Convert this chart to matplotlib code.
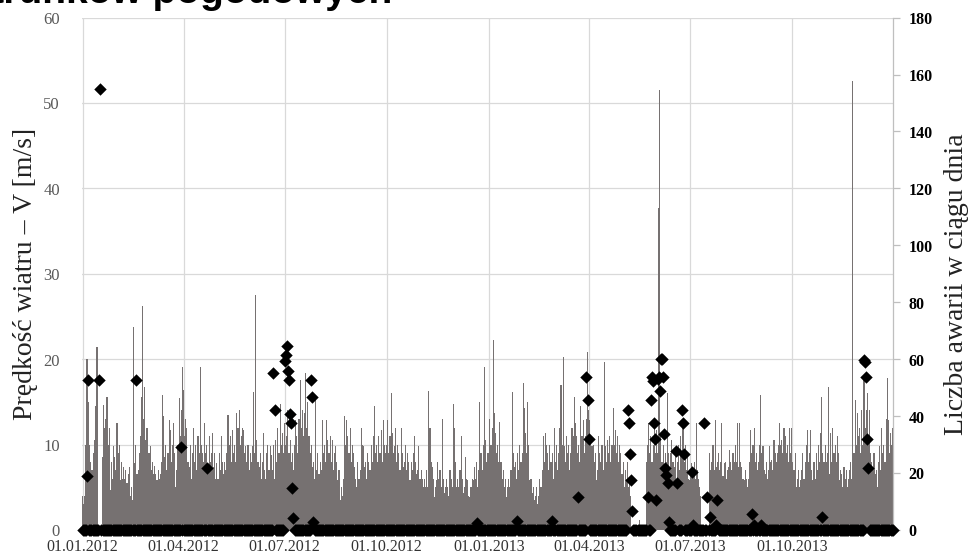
import numpy as np
import pandas as pd
import matplotlib
matplotlib.use("Agg")
import matplotlib.pyplot as plt
import matplotlib.dates as mdates

plt.rcParams["path.simplify"] = False

# ---------------- data ----------------
start_date = "2012-01-01"

wind_2012_01 = [4, 3, 4, 10, 20, 15, 10, 8, 7, 7, 9, 10.5, 14.5, 21.4, 0, 0, 0, 0, 8.6, 14.6, 12, 13, 15.6, 10, 12, 4.7, 8, 6, 9.8, 8.6, 7]
wind_2012_02 = [12.5, 9, 10, 5.9, 8, 6, 7.4, 6, 7, 5.5, 6.5, 7.4, 4, 5, 3.5, 23.8, 7.8, 10, 6.5, 7, 9, 11, 15.6, 26.2, 13, 16.8, 10.5, 12, 9]
wind_2012_03 = [9, 9.8, 7, 8, 6.6, 7.5, 6.6, 5.9, 7, 6, 6.5, 8, 15.8, 13.3, 8.6, 10, 7, 9, 12.9, 11.7, 8, 10, 12.5, 9, 5, 7, 10, 15.4, 11, 14, 19.1]
wind_2012_04 = [16.4, 11, 13, 12, 8, 7.4, 10, 6, 9, 12, 8, 10, 7, 11, 9, 19.1, 10, 9, 8, 12.5, 9, 10, 7, 11, 8, 9, 11.3, 7.4, 9, 6]
wind_2012_05 = [7.8, 6, 9, 7, 11, 8, 6.6, 8, 7, 9, 13.5, 10, 11, 8, 11.7, 9, 10, 8, 13.7, 12, 14, 10, 11, 12, 11.7, 9, 9.8, 8, 10, 7, 9]
wind_2012_06 = [8, 9.8, 16.2, 9, 27.5, 10.5, 8, 7.4, 9, 6, 8, 11.3, 7, 6, 9, 10, 7, 9.8, 8.8, 7, 10, 6, 10.5, 8, 12, 9, 14.8, 10, 11.3, 9]
wind_2012_07 = [12.5, 10, 11, 14, 9, 10.5, 8, 9, 7, 10, 12.9, 11, 9, 13, 17.6, 12, 14, 11, 13.7, 18.4, 12, 15, 11, 9, 10, 7.4, 8, 6, 15.8, 7, 9]
wind_2012_08 = [6.6, 8, 7, 12.9, 9, 10, 8, 12.9, 10.5, 9, 11, 8, 10.5, 7, 9, 9.8, 8, 5.9, 7, 3.5, 5, 4, 6, 13.3, 10, 12.9, 11, 9, 12, 8, 10]
wind_2012_09 = [9, 7.4, 6, 5, 8, 6, 7, 12, 10, 9.8, 7.4, 8, 6, 9, 8, 7, 10, 8, 11, 14.5, 9, 10, 8, 11, 9, 11.7, 8, 12.9, 10, 9]
wind_2012_10 = [10, 12.9, 9, 11, 16, 11.3, 9, 9.8, 12, 8, 10, 9, 7, 12, 9, 7.4, 8, 10, 7, 9, 8, 5.9, 8, 7, 9, 11, 8, 6.6, 7, 9.8, 6]
wind_2012_11 = [7, 6, 5, 6, 5, 7, 5, 16.3, 12, 8, 7.4, 6, 3.9, 5, 5.9, 8, 6, 7, 5, 13, 6, 4.3, 5, 6, 5, 4, 7, 6, 5, 14.8]
wind_2012_12 = [12, 8, 5, 6, 5, 7, 11, 6, 4.3, 5, 8.6, 6, 5.9, 4, 3.9, 5, 6, 5.9, 7.4, 6, 8, 5, 7, 15, 9, 7, 10, 19.1, 10.5, 8, 9]
wind_2013_01 = [9, 13, 10, 12, 22.3, 13.7, 11.3, 9, 10, 8, 12.7, 8, 6, 7, 5, 6, 3.9, 5, 6, 5, 7, 16.2, 9, 7.4, 8, 6, 9, 7, 10, 8, 9]
wind_2013_02 = [17.2, 14.3, 11.3, 9, 15, 10, 5.9, 6, 4.3, 5, 3.5, 4, 5, 3.1, 4, 6, 5, 7, 11, 8, 11.3, 10, 9, 7, 10, 8, 9, 6]
wind_2013_03 = [12, 8, 10, 7, 9, 12, 17, 10, 20.3, 9.8, 8, 11, 9, 10, 7, 9, 12, 11, 15.6, 12.5, 11, 9, 10, 8, 14.5, 11, 12.9, 9, 11, 13, 20.9]
wind_2013_04 = [14, 12.9, 11, 9.8, 10, 8, 9, 5.9, 7, 11, 9, 8, 10, 7, 19.7, 9.8, 8, 10.5, 9, 11, 8, 10, 14.3, 10, 11.7, 9, 11, 8, 10, 9]
wind_2013_05 = [6.6, 8, 5, 7, 6, 8, 5, 6, 4, 0, 0, 0, 0, 0, 0, 0, 1.2, 0, 0, 0, 0, 0, 8, 10, 12.5, 9, 11, 8, 10, 12, 9]
wind_2013_06 = [11.7, 9, 37.7, 51.5, 11, 8, 10, 7.4, 9, 8, 16, 9, 7, 9, 10.5, 8, 7.4, 9, 6, 8, 10, 7, 11, 9, 12.9, 8, 10, 7, 9, 6]
wind_2013_07 = [5.9, 7, 7.8, 6.6, 8, 6, 12.5, 7, 6, 5, 4, 0, 0, 0, 0, 0, 0, 0, 9, 7, 8, 10, 7, 12.9, 7.4, 8, 9, 7, 8, 12.5, 6.3]
wind_2013_08 = [7.8, 8, 6, 7, 7.4, 9.4, 8, 7, 9, 8, 10, 8, 12.5, 7.4, 12.5, 8, 7.4, 6, 5.9, 7, 6, 5, 6, 8, 11.7, 9, 10, 12, 8, 9, 7]
wind_2013_09 = [8, 10, 15.8, 9, 9.8, 7, 6.6, 8, 6, 7, 9.8, 8, 8.2, 7, 10.5, 9, 8, 9, 10, 12.5, 10, 10.5, 9, 12, 11, 9, 10, 8, 12, 9]
wind_2013_10 = [12, 8, 7, 9, 5, 6, 7, 5, 5.9, 7, 9, 6, 8, 10, 11.7, 8, 9, 11.7, 7, 5.9, 8, 6, 9, 7, 10, 8, 11.3, 15.6, 9, 8, 10]
wind_2013_11 = [8, 9, 16.8, 6.6, 11.3, 8, 12, 9, 10, 8, 11, 9, 5.9, 7, 6.6, 5, 7.4, 6, 7, 5, 6, 7, 8, 6, 52.6, 9, 15.2, 10, 13.7, 11]
wind_2013_12 = [12, 9, 14, 10, 17.6, 12, 14, 16, 11, 14, 9, 8, 7.4, 9, 6.6, 7, 5, 8, 9.8, 7, 12, 9, 10, 8, 13, 17.8, 12.9, 9, 11.3, 10, 12]

wind_speed = (wind_2012_01 + wind_2012_02 + wind_2012_03 + wind_2012_04 + wind_2012_05 + wind_2012_06
              + wind_2012_07 + wind_2012_08 + wind_2012_09 + wind_2012_10 + wind_2012_11 + wind_2012_12
              + wind_2013_01 + wind_2013_02 + wind_2013_03 + wind_2013_04 + wind_2013_05 + wind_2013_06
              + wind_2013_07 + wind_2013_08 + wind_2013_09 + wind_2013_10 + wind_2013_11 + wind_2013_12)

# days with failures (all other days: 0 failures)
fail_dates = ["2012-01-05", "2012-01-06", "2012-01-16", "2012-01-17", "2012-02-18", "2012-03-30",
              "2012-04-22", "2012-06-21", "2012-06-22", "2012-07-01", "2012-07-02", "2012-07-03",
              "2012-07-04", "2012-07-05", "2012-07-06", "2012-07-07", "2012-07-08", "2012-07-09",
              "2012-07-25", "2012-07-26", "2012-07-27", "2012-12-21", "2013-01-26", "2013-02-27",
              "2013-03-22", "2013-03-30", "2013-03-31", "2013-04-01", "2013-05-06", "2013-05-07",
              "2013-05-08", "2013-05-09", "2013-05-10", "2013-05-24", "2013-05-27", "2013-05-28",
              "2013-05-29", "2013-05-30", "2013-05-31", "2013-06-01", "2013-06-02", "2013-06-03",
              "2013-06-04", "2013-06-05", "2013-06-06", "2013-06-07", "2013-06-08", "2013-06-09",
              "2013-06-10", "2013-06-11", "2013-06-12", "2013-06-19", "2013-06-20", "2013-06-24",
              "2013-06-25", "2013-06-26", "2013-07-03", "2013-07-04", "2013-07-14", "2013-07-17",
              "2013-07-19", "2013-07-25", "2013-07-26", "2013-08-26", "2013-08-28", "2013-09-03",
              "2013-10-28", "2013-12-05", "2013-12-06", "2013-12-07", "2013-12-08", "2013-12-09"]
fail_counts = [18.8, 52.8, 52.8, 155, 52.8, 29,
               21.7, 55, 42, 59.2, 61.5, 64.8,
               55.7, 52.8, 40.7, 37.7, 14.7, 4.1,
               52.8, 46.7, 2.9, 2.4, 3, 3,
               11.7, 53.7, 45.7, 31.9, 42, 37.7,
               26.7, 17.6, 6.8, 11.7, 45.7, 53.7,
               52.2, 37.7, 31.9, 10.6, 53, 53.7,
               48.7, 60, 60, 53.7, 33.8, 21.7,
               19.3, 16.6, 2.9, 27.9, 16.6, 42,
               37.7, 26.7, 20.2, 1.8, 37.7, 11.7,
               4.5, 1.8, 10.6, 5.5, 1.8, 1.8,
               4.7, 59.6, 59, 53.7, 31.9, 21.7]

x_tick_dates = ["2012-01-01", "2012-04-01", "2012-07-01", "2012-10-01",
                "2013-01-01", "2013-04-01", "2013-07-01", "2013-10-01"]

left_label = "Prędkość wiatru – V [m/s]"
right_label = "Liczba awarii w ciągu dnia"
title_text = "Zależność awaryjności od warunków pogodowych"

# ---------------- build series ----------------
dates = pd.date_range(start_date, periods=len(wind_speed), freq="D")
failures = pd.Series(0.0, index=dates)
failures.loc[pd.to_datetime(fail_dates)] = fail_counts

# ---------------- figure ----------------
W, H = 970, 556
fig = plt.figure(figsize=(W / 100 + 0.004, H / 100 + 0.004), dpi=100)
L, R, B, T = 82, 893, 530, 18
ax = fig.add_axes([L / W, 1 - B / H, (R - L) / W, (B - T) / H])

serif = ["Liberation Serif", "DejaVu Serif"]

ax.bar(dates, wind_speed, width=1.0, color="#767171", linewidth=0, zorder=2)
ax.set_ylim(0, 60)
ax.set_yticks(np.arange(0, 61, 10))
ax.set_xlim(dates[0] - pd.Timedelta(hours=12), dates[-1] + pd.Timedelta(hours=12))
ax.set_xticks(pd.to_datetime(x_tick_dates))
ax.xaxis.set_major_formatter(mdates.DateFormatter("%d.%m.%Y"))
ax.set_axisbelow(True)
ax.grid(True, color="#d9d9d9", linewidth=0.9, zorder=0)
for s in ax.spines.values():
    s.set_visible(False)
ax.tick_params(axis="y", length=0, pad=16, labelsize=12, labelcolor="#595959")
ax.tick_params(axis="x", length=0, pad=6, labelsize=11.5, labelcolor="#333333")
for lab in ax.get_xticklabels() + ax.get_yticklabels():
    lab.set_family(serif)
ax.set_ylabel(left_label, family=serif, fontsize=20, color="#222222", labelpad=4)

ax2 = ax.twinx()
ax2.scatter(dates, failures.values, marker="D", s=40, color="black",
            linewidths=0, clip_on=False, zorder=5)
ax2.set_ylim(0, 180)
ax2.set_yticks(np.arange(0, 181, 20))
for s in ["top", "left", "bottom"]:
    ax2.spines[s].set_visible(False)
ax2.spines["right"].set_color("#bfbfbf")
ax2.spines["right"].set_linewidth(0.9)
ax2.tick_params(axis="y", direction="out", length=5, width=0.9, color="#bfbfbf",
                pad=6, labelsize=11.5, labelcolor="black")
for lab in ax2.get_yticklabels():
    lab.set_family(serif)
    lab.set_fontweight("bold")
ax2.set_ylabel(right_label, family=serif, fontsize=20, color="#222222")
ax2.yaxis.set_label_coords(1.063, 0.48)

fig.text(392 / W, 1 - 3 / H, title_text, ha="right", va="baseline",
         fontsize=28, fontweight="bold", family=["Liberation Sans", "DejaVu Sans"])

fig.savefig("out.png", dpi=100)
